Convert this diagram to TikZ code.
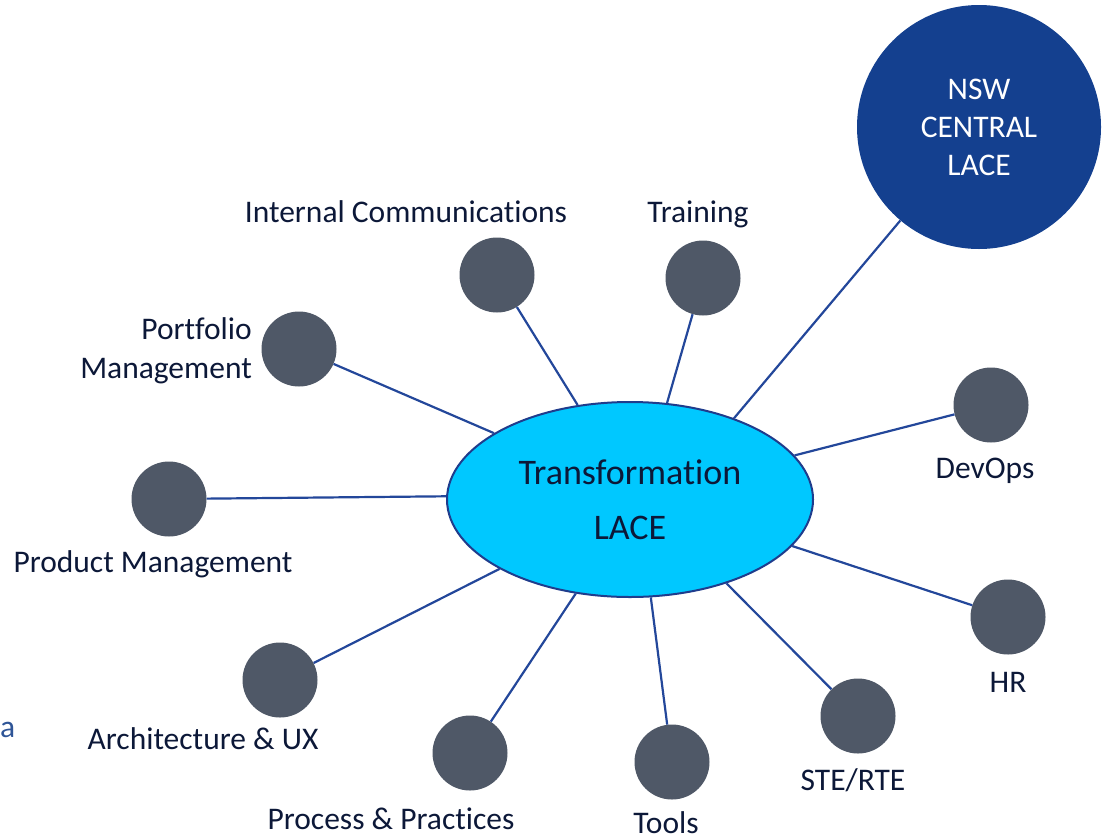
\documentclass[tikz,border=0pt]{standalone}
\usepackage{fontspec}
\setmainfont[Ligatures={NoCommon}]{Carlito}
\usetikzlibrary{shapes.geometric}
\definecolor{cyanfill}{HTML}{00C8FF}
\definecolor{ellblue}{HTML}{1F3C8C}
\definecolor{linkblue}{HTML}{23479A}
\definecolor{hubblue}{HTML}{14408F}
\definecolor{dotgray}{HTML}{4F5867}
\definecolor{labelnavy}{HTML}{0C1838}
\definecolor{ablue}{HTML}{2F5597}
\begin{document}
\begin{tikzpicture}[x=1pt,y=-1pt,
  dot/.style={circle,fill=dotgray,minimum size=75pt,inner sep=0pt},
  lbl/.style={text=labelnavy,font=\fontsize{31.5}{39}\selectfont,inner sep=0pt,anchor=base},
  link/.style={draw=linkblue,line width=2.2pt}]
\useasboundingbox (0,0) rectangle (1107,838);

\node[ellipse,draw=ellblue,line width=2pt,fill=cyanfill,minimum width=366pt,minimum height=195pt,
      inner sep=0pt,align=center,text=labelnavy,font=\fontsize{36}{55}\selectfont] (core) at (630,499.5) {Transformation\\LACE};

\node[circle,fill=hubblue,minimum size=244pt,inner sep=0pt,align=center,text=white,
      font=\fontsize{31.5}{38}\selectfont] (nsw) at (979,127) {NSW\\CENTRAL\\LACE};

\node[dot] (ic) at (497,275) {};
\node[dot] (tr) at (703,278) {};
\node[dot] (pf) at (299,349) {};
\node[dot] (pd) at (169,499) {};
\node[dot] (ar) at (280,680) {};
\node[dot] (pp) at (470,753) {};
\node[dot] (tl) at (672,762) {};
\node[dot] (st) at (858,716) {};
\node[dot] (hr) at (1008,617) {};
\node[dot] (dv) at (991,405) {};

\draw[link] (ic) -- (core.119);
\draw[link] (tr) -- (core.69);
\draw[link] (nsw) -- (core.38);
\draw[link] (pf) -- (core.154);
\draw[link] (pd) -- (core.179);
\draw[link] (dv) -- (core.15);
\draw[link] (hr) -- (core.-16);
\draw[link] (st) -- (core.-41);
\draw[link] (tl) -- (core.-78);
\draw[link] (pp) -- (core.-120);
\draw[link] (ar) -- (core.-152);

\node[lbl] (ict) at (406,222) {Internal Communications};
\node[lbl] (trt) at (698,222) {Training};
\node[lbl,align=right,anchor=east] (pft) at (252,351) {Portfolio\\Management};
\node[lbl] (pdt) at (153,572) {Product Management};
\node[lbl] (art) at (203,749) {Architecture \& UX};
\node[lbl] (ppt) at (391,829) {Process \& Practices};
\node[lbl] (tlt) at (666,833) {Tools};
\node[lbl] (stt) at (853,790) {STE/RTE};
\node[lbl] (hrt) at (1008,692) {HR};
\node[lbl] (dvt) at (985,478) {DevOps};

\node[text=ablue,font=\fontsize{31.5}{38}\selectfont,anchor=base west,inner sep=0pt] (frag) at (0,737) {a};
\end{tikzpicture}
\end{document}
